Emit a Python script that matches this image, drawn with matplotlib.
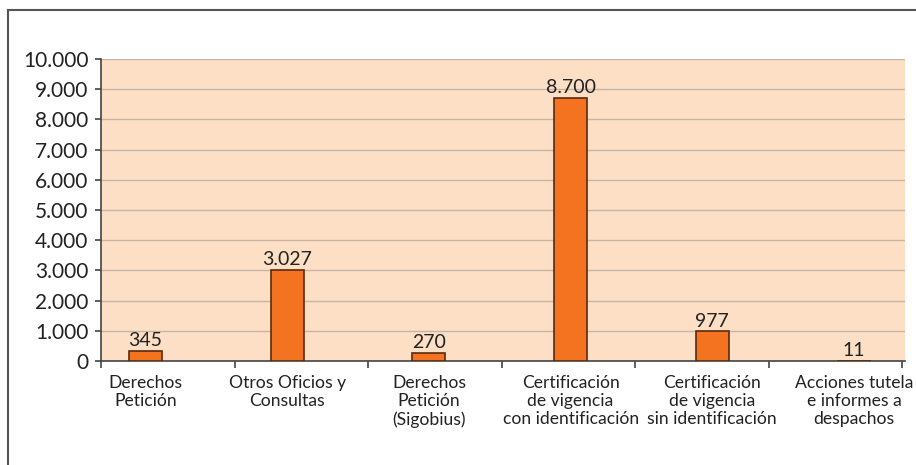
import matplotlib.pyplot as plt
from matplotlib.lines import Line2D
import numpy as np

categorias = ['Derechos\nPetición', 'Otros Oficios y\nConsultas', 'Derechos\nPetición\n(Sigobius)',
              'Certificación\nde vigencia\ncon identificación', 'Certificación\nde vigencia\nsin identificación',
              'Acciones tutela\ne informes a\ndespachos']
valores = [345, 3027, 270, 8700, 977, 11]
etiquetas = ['345', '3.027', '270', '8.700', '977', '11']
yticks = [0, 1000, 2000, 3000, 4000, 5000, 6000, 7000, 8000, 9000, 10000]
ytick_labels = ['0', '1.000', '2.000', '3.000', '4.000', '5.000', '6.000', '7.000', '8.000', '9.000', '10.000']

plt.rcParams['font.family'] = ['Lato', 'DejaVu Sans']

W, H = 916, 465
fig = plt.figure(figsize=(W / 100, H / 100), dpi=100)

# area del grafico en pixeles
left, right, top, bottom = 101, 905, 59, 361
ax = fig.add_axes([left / W, 1 - bottom / H, (right - left) / W, (bottom - top) / H])
ax.set_facecolor('#FDDFC6')

# posiciones de barras (espaciado de la imagen original)
x0_px, paso_px = 145.5, 141.7
x = np.arange(len(valores))
ax.set_xlim((left - x0_px) / paso_px, (right - x0_px) / paso_px)
ax.set_ylim(0, 10000)

ax.bar(x, valores, width=0.233, color='#F47321', edgecolor='#5A2A10', linewidth=1.2, zorder=3)
for xi, v, t in zip(x, valores, etiquetas):
    ax.text(xi, v + 60, t, ha='center', va='bottom', fontsize=14, color='#222222', zorder=4)

ax.set_yticks(yticks)
ax.set_yticklabels(ytick_labels, fontsize=15, color='#222222')
ax.yaxis.grid(True, color='#C8B4A4', linewidth=1, zorder=0)
ax.tick_params(axis='y', length=4, width=1.2, color='#444444', pad=5)

# marcas entre categorias
bordes = [(left + 133.5 * k - x0_px) / paso_px for k in range(7)]
ax.set_xticks(bordes)
ax.set_xticklabels([])
ax.tick_params(axis='x', length=5, width=1.2, color='#444444')
for xi, c in zip(x, categorias):
    ax.text(xi, -480, c, ha='center', va='top', fontsize=12.6, color='#222222', linespacing=1.15)

for s in ['top', 'right']:
    ax.spines[s].set_visible(False)
ax.spines['left'].set_color('#444444')
ax.spines['bottom'].set_color('#444444')
ax.spines['left'].set_linewidth(1.2)
ax.spines['bottom'].set_linewidth(1.2)

# marco exterior (solo arriba e izquierda)
fig.add_artist(Line2D([8 / W, 8 / W], [0, 1 - 10 / H], color='#555555', linewidth=1.5, transform=fig.transFigure))
fig.add_artist(Line2D([8 / W, 1], [1 - 10 / H, 1 - 10 / H], color='#555555', linewidth=1.5, transform=fig.transFigure))

plt.savefig('out.png', dpi=100)
